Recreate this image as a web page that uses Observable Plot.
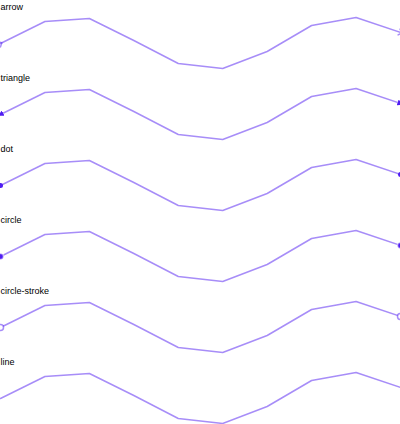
<!DOCTYPE html>
<html>
<head>
<meta charset="utf-8">
<script src="https://cdn.jsdelivr.net/npm/d3@7"></script>
<script src="https://cdn.jsdelivr.net/npm/@observablehq/plot@0.6"></script>
<style>
  html, body { margin: 0; padding: 0; background: #fff; }
  #chart svg { overflow: visible; }
</style>
</head>
<body>
<div id="chart"></div>
<script>
// Facet names (one panel per marker style)
const markers = ["arrow", "triangle", "dot", "circle", "circle-stroke", "line"];
// Sample index along x
const steps = [0, 1, 2, 3, 4, 5, 6, 7, 8, 9];
// Series values (same wave in every panel)
const values = [29, 51, 54, 32, 9, 4, 21, 47, 55, 40];

const strokeColor = "#4f1cf2";

function markerTriangle(color, context) {
  return d3.create("svg:marker")
    .attr("viewBox", "-5 -5 10 10")
    .attr("markerWidth", 4)
    .attr("markerHeight", 4)
    .attr("orient", "auto-start-reverse")
    .attr("fill", color)
    .attr("stroke", "none")
    .call(m => m.append("path").attr("d", "M-5,-5L5,0L-5,5Z"))
    .node();
}

function markerFor(name) {
  if (name === "triangle") return markerTriangle;
  if (name === "line") return "none";
  return name;
}

const lineMarks = markers.map(name => Plot.line(steps, {
  x: i => i,
  y: i => values[i],
  fy: steps.map(() => name),
  stroke: strokeColor,
  strokeOpacity: 0.5,
  strokeWidth: 1.5,
  markerStart: markerFor(name),
  markerEnd: markerFor(name)
}));

const chart = Plot.plot({
  width: 400,
  height: 424,
  marginTop: 0,
  marginBottom: 0,
  marginLeft: 0,
  marginRight: 0,
  style: {fontFamily: "'Liberation Sans', Arial, sans-serif"},
  x: {axis: null, domain: [0, 9]},
  y: {axis: null, domain: [0, 71]},
  fy: {axis: null, domain: markers, padding: 0, range: [0, 427]},
  marks: [
    ...lineMarks,
    Plot.text(markers, {
      fy: d => d,
      text: d => d,
      frameAnchor: "top-left",
      dy: 2,
      fontSize: 9
    })
  ]
});
document.getElementById("chart").appendChild(chart);
</script>
</body>
</html>
